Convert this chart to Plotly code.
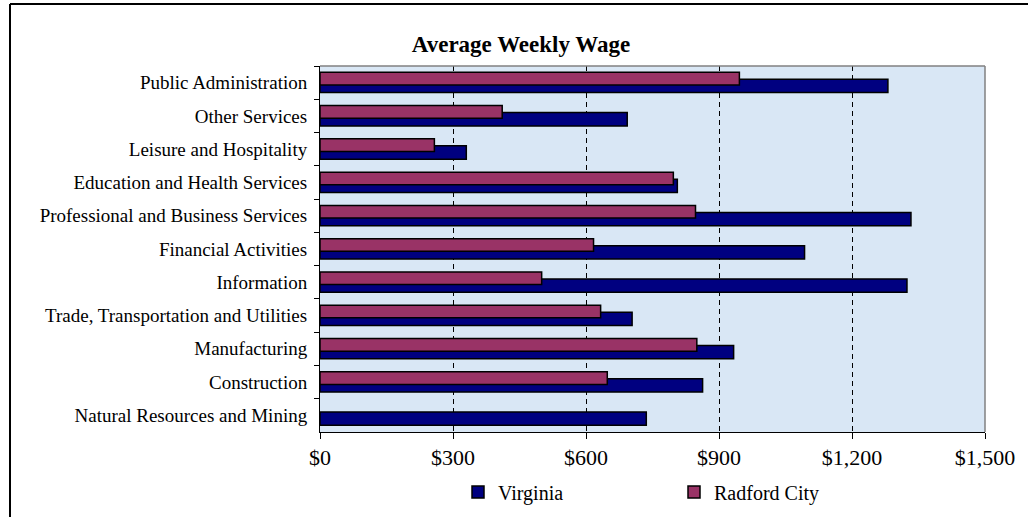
import plotly.graph_objects as go

categories = [
    "Public Administration",
    "Other Services",
    "Leisure and Hospitality",
    "Education and Health Services",
    "Professional and Business Services",
    "Financial Activities",
    "Information",
    "Trade, Transportation and Utilities",
    "Manufacturing",
    "Construction",
    "Natural Resources and Mining",
]
virginia = [1281, 693, 330, 806, 1333, 1093, 1324, 704, 933, 863, 736]
radford = [946, 411, 258, 797, 847, 617, 500, 633, 850, 648, None]
x_ticks = [0, 300, 600, 900, 1200, 1500]
x_labels = ["$0", "$300", "$600", "$900", "$1,200", "$1,500"]

FONT = "Liberation Serif"
W, H = 1028, 517
# plot-area edges in pixels
L, R, T, B = 320, 985, 66, 432
PW, PH = R - L, B - T

def px(x):
    return (x - L) / PW

def py(y):
    return (B - y) / PH

fig = go.Figure()
fig.add_trace(go.Bar(
    y=categories, x=virginia, name="Virginia", orientation="h",
    marker=dict(color="#000080", line=dict(color="black", width=1.5)),
    offset=-0.10, width=0.40,
))
fig.add_trace(go.Bar(
    y=categories, x=radford, name="Radford City", orientation="h",
    marker=dict(color="#993366", line=dict(color="black", width=1.5)),
    offset=-0.31, width=0.38,
))

shapes = [
    dict(type="line", xref="paper", yref="paper", x0=0, x1=1, y0=1, y1=1,
         line=dict(color="#808080", width=1.5)),
    dict(type="line", xref="paper", yref="paper", x0=1, x1=1, y0=0, y1=1,
         line=dict(color="#808080", width=1.5)),
    dict(type="line", xref="paper", yref="paper", x0=px(10), x1=px(1040),
         y0=py(4), y1=py(4), line=dict(color="black", width=2)),
    dict(type="line", xref="paper", yref="paper", x0=px(10), x1=px(10),
         y0=py(4), y1=py(530), line=dict(color="black", width=2)),
]

fig.update_layout(
    width=W, height=H,
    margin=dict(l=L, r=W - R, t=T, b=H - B, autoexpand=False),
    paper_bgcolor="white",
    plot_bgcolor="#d9e7f5",
    barmode="overlay",
    font=dict(family=FONT, color="black", size=19),
    title=dict(text="<b>Average Weekly Wage</b>", x=521 / W, xanchor="center",
               y=1 - 44 / H, yanchor="middle", xref="container", yref="container",
               font=dict(family=FONT, size=23, color="black")),
    xaxis=dict(
        range=[0, 1500], tickvals=x_ticks, ticktext=x_labels,
        showgrid=True, gridcolor="black", gridwidth=1, griddash="5px,4px",
        zeroline=False, showline=True, linecolor="black", linewidth=1,
        ticks="outside", ticklen=6, tickcolor="black",
        tickfont=dict(family=FONT, size=22),
    ),
    yaxis=dict(
        categoryorder="array", categoryarray=categories, autorange="reversed",
        showgrid=False, zeroline=False, showline=True, linecolor="black",
        linewidth=1, ticks="outside", ticklen=5, tickcolor="black",
        tickson="boundaries", ticklabelstandoff=8,
        tickfont=dict(family=FONT, size=19),
    ),
    legend=dict(orientation="h", x=px(458), xanchor="left", y=py(492),
                yanchor="middle", font=dict(family=FONT, size=20),
                entrywidth=171, entrywidthmode="pixels", traceorder="normal",
                bgcolor="rgba(0,0,0,0)"),
    shapes=shapes,
    showlegend=True,
)

fig.write_html(
    "out.html",
    config={"displayModeBar": False},
    post_script="document.body.style.margin='0';document.body.style.overflow='hidden';",
)
